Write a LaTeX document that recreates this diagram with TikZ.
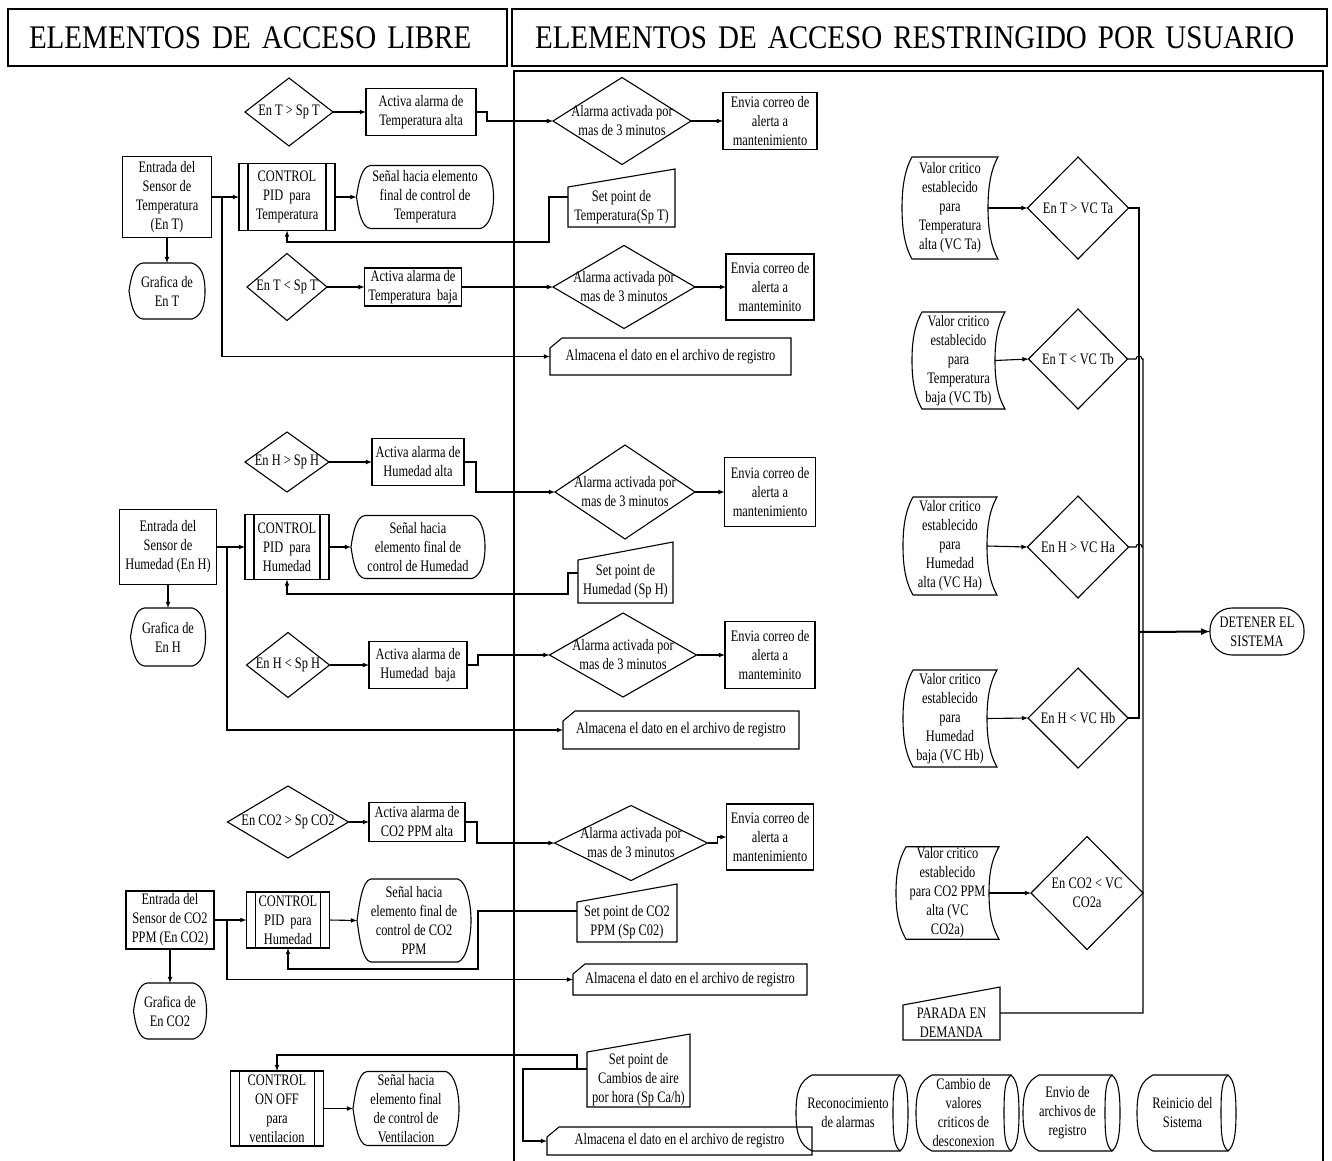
\documentclass[tikz,border=0pt]{standalone}
\usepackage{fontspec}
\setmainfont{Liberation Serif}[FakeStretch=0.775]
\newfontfamily\headfont{Liberation Serif}[FakeStretch=0.88, WordSpace=0.6]
\usepackage{tikz}
\usetikzlibrary{arrows}
\usetikzlibrary{calc}
\usetikzlibrary{shapes.geometric}
\tikzstyle{base}=[inner xsep=2pt, inner ysep=1pt, outer sep=0pt, align=center]
\tikzstyle{proc}=[base, draw, rectangle]
\tikzstyle{predef}=[base, draw, rectangle]
\tikzstyle{textbox}=[base, rectangle]
\tikzstyle{decision}=[base, draw, diamond, inner sep=0pt]
\tikzstyle{term}=[base, draw, rectangle, rounded corners=22pt]
\tikzstyle{hdr}=[draw, rectangle, inner ysep=0pt, align=left, font=\headfont\fontsize{33}{38}\selectfont]
\tikzset{sz/.style 2 args={minimum width=#1pt, minimum height=#2pt}}

\begin{document}
\begin{tikzpicture}[x=1pt, y=-1pt, line width=1.1pt, >=latex,
    font=\fontsize{16}{19}\selectfont,
    every label/.style={align=center, inner sep=0pt}]
    \useasboundingbox (0,0) rectangle (1332,1160);

    % cabeceras
    \node[hdr, text width=457pt, inner xsep=21pt, minimum height=57pt] (hdrL) at (257.5,37.5) {\mbox{ELEMENTOS DE ACCESO LIBRE}};
    \node[hdr, text width=769pt, inner xsep=23pt, minimum height=57pt] (hdrR) at (919.5,37.5) {\mbox{ELEMENTOS DE ACCESO RESTRINGIDO POR USUARIO}};
    \draw (514,1170) -- (514,71) -- (1323,71) -- (1323,1170);

    % temperatura
    \node[decision, sz={88}{68}, label={center:En T > Sp T}] (dTa) at (289,112) {};
    \node[proc, sz={110}{47}] (aTa) at (421,112) {Activa alarma de\\Temperatura alta};
    \node[decision, sz={138}{87}, label={center:Alarma activada por\\mas de 3 minutos}] (dTa3) at (622,121) {};
    \node[proc, sz={94}{57}] (eTa) at (770,121) {Envia correo de\\alerta a\\mantenimiento};
    \node[proc, sz={89}{81}] (sT) at (167,197) {Entrada del\\Sensor de\\Temperatura\\(En T)};
    \node[predef, sz={96}{67}] (pidT) at (287,197) {CONTROL\\PID~ para\\Temperatura};
    \node[textbox, sz={137}{63}] (sigT) at (425,197) {Señal hacia elemento\\final de control de\\Temperatura};
    \node[textbox, sz={107}{40}] (spT) at (621.5,207) {Set point de\\Temperatura(Sp T)};
    \node[textbox, sz={76}{56}] (gT) at (167,291) {Grafica de\\En T};
    \node[decision, sz={80}{67}, label={center:En T < Sp T}] (dTb) at (287,287) {};
    \node[proc, sz={97}{38}] (aTb) at (413,287) {Activa alarma de\\Temperatura~ baja};
    \node[decision, sz={142}{83}, label={center:Alarma activada por\\mas de 3 minutos}] (dTb3) at (624,287) {};
    \node[proc, sz={88}{66}] (eTb) at (770,287) {Envia correo de\\alerta a\\manteminito};
    \node[textbox, sz={241}{37}] (almT) at (670.5,356.5) {Almacena el dato en el archivo de registro};
    \coordinate (jT) at (222,197);

    \draw[->] (dTa.east) -- (aTa.west);
    \draw[->] (aTa.east) -- ++(11,0) |- (dTa3.west);
    \draw[->] (dTa3.east) -- (eTa.west);
    \draw (sT.east) -- (jT);
    \draw[->] (jT) -- (pidT.west);
    \draw[->] (jT) |- (almT.west);
    \draw[->] (pidT.east) -- (sigT.west);
    \draw[->] ([yshift=10pt]spT.west) -- ++(-19,0) -- ++(0,45) -| (pidT.south);
    \draw[->] (sT.south) -- (gT.north);
    \draw[->] (dTb.east) -- (aTb.west);
    \draw[->] (aTb.east) -- (dTb3.west);
    \draw[->] (dTb3.east) -- (eTb.west);

    % humedad
    \node[decision, sz={84}{60}, label={center:En H > Sp H}] (dHa) at (287,462) {};
    \node[proc, sz={92}{47}] (aHa) at (418,462) {Activa alarma de\\Humedad alta};
    \node[decision, sz={140}{94}, label={center:Alarma activada por\\mas de 3 minutos}] (dHa3) at (625,492) {};
    \node[proc, sz={91}{69}] (eHa) at (770,492) {Envia correo de\\alerta a\\mantenimiento};
    \node[proc, sz={97}{75}] (sH) at (168,547) {Entrada del\\Sensor de\\Humedad (En H)};
    \node[predef, sz={84}{65}] (pidH) at (287,547) {CONTROL\\PID~ para\\Humedad};
    \node[textbox, sz={134}{63}] (sigH) at (418,547) {Señal hacia\\elemento final de\\control de Humedad};
    \node[textbox, sz={95}{43}] (spH) at (625.5,581.5) {Set point de\\Humedad (Sp H)};
    \node[textbox, sz={75}{58}] (gH) at (168,637) {Grafica de\\En H};
    \node[decision, sz={83}{65}, label={center:En H < Sp H}] (dHb) at (288,665) {};
    \node[proc, sz={98}{47}] (aHb) at (418,665) {Activa alarma de\\Humedad~ baja};
    \node[decision, sz={147}{84}, label={center:Alarma activada por\\mas de 3 minutos}] (dHb3) at (623,655) {};
    \node[proc, sz={90}{67}] (eHb) at (770,655) {Envia correo de\\alerta a\\manteminito};
    \node[textbox, sz={236}{38}] (almH) at (681,730) {Almacena el dato en el archivo de registro};
    \coordinate (jH) at (227,547);

    \draw[->] (dHa.east) -- (aHa.west);
    \draw[->] (aHa.east) -- ++(12,0) |- (dHa3.west);
    \draw[->] (dHa3.east) -- (eHa.west);
    \draw (sH.east) -- (jH);
    \draw[->] (jH) -- (pidH.west);
    \draw[->] (jH) |- (almH.west);
    \draw[->] (pidH.east) -- (sigH.west);
    \draw[->] ([yshift=8.5pt]spH.west) -- ++(-10,0) -- ++(0,21) -| (pidH.south);
    \draw[->] (sH.south) -- (gH.north);
    \draw[->] (dHb.east) -- (aHb.west);
    \draw[->] (aHb.east) -- ++(11,0) |- (dHb3.west);
    \draw[->] (dHb3.east) -- (eHb.west);

    % CO2
    \node[decision, sz={121}{72}, label={center:En CO2 > Sp CO2}] (dCa) at (288,822) {};
    \node[proc, sz={96}{39}] (aCa) at (417,822) {Activa alarma de\\CO2 PPM alta};
    \node[decision, sz={153}{75}, label={center:Alarma activada por\\mas de 3 minutos}] (dCa3) at (631,843) {};
    \node[proc, sz={87}{66}] (eCa) at (770,837) {Envia correo de\\alerta a\\mantenimiento};
    \node[proc, sz={88}{58}] (sC) at (170,920) {Entrada del\\Sensor de CO2\\PPM (En CO2)};
    \node[predef, sz={83}{56}] (pidC) at (288,920) {CONTROL\\PID~ para\\Humedad};
    \node[textbox, sz={114}{83}] (sigC) at (414,920.5) {Señal hacia\\elemento final de\\control de CO2\\PPM};
    \node[textbox, sz={100}{40}] (spC) at (627,922) {Set point de CO2\\PPM (Sp C02)};
    \node[textbox, sz={234}{31}] (almC) at (690,979.5) {Almacena el dato en el archivo de registro};
    \node[textbox, sz={73}{56}] (gC) at (170,1011) {Grafica de\\En CO2};
    \coordinate (jC) at (227,920);

    \draw[->] (dCa.east) -- (aCa.west);
    \draw[->] (aCa.east) -- ++(12,0) |- (dCa3.west);
    \draw[->] (dCa3.east) -- ++(10,0) |- (eCa.west);
    \draw (sC.east) -- (jC);
    \draw[->] (jC) -- (pidC.west);
    \draw[->] (jC) |- (almC.west);
    \draw[->] (pidC.east) -- (sigC.west);
    \draw[->] ([yshift=11pt]spC.west) -- ++(-99,0) -- ++(0,58) -| (pidC.south);
    \draw[->] (sC.south) -- (gC.north);

    % ventilacion
    \node[predef, sz={93}{75}] (pidV) at (277,1108.5) {CONTROL\\ON OFF\\para\\ventilacion};
    \node[textbox, sz={106}{74}] (sigV) at (406,1108.5) {Señal hacia\\elemento final\\de control de\\Ventilacion};
    \node[textbox, sz={103}{55}] (spV) at (638.5,1079.5) {Set point de\\Cambios de aire\\por hora (Sp Ca/h)};
    \node[textbox, sz={265}{28}] (almV) at (679.5,1141) {Almacena el dato en el archivo de registro};

    \draw[->] (pidV.east) -- (sigV.west);
    \draw[->] ([yshift=10.5pt]spV.west) -- ++(-10,0) -- ++(0,-14) -| (pidV.north);
    \draw[->] ([yshift=10.5pt]spV.west) -- ++(-64,0) |- (almV.west);

    % valores criticos
    \node[textbox, sz={96}{102}] (vTa) at (950,208) {Valor critico\\establecido\\para\\Temperatura\\alta (VC Ta)};
    \node[decision, sz={101}{102}, label={center:En T > VC Ta}] (dVTa) at (1078,208) {};
    \node[textbox, sz={93}{97}] (vTb) at (958.5,360.5) {Valor critico\\establecido\\para\\Temperatura\\baja (VC Tb)};
    \node[decision, sz={99}{100}, label={center:En T < VC Tb}] (dVTb) at (1078,359) {};
    \node[textbox, sz={94}{98}] (vHa) at (950,546) {Valor critico\\establecido\\para\\Humedad\\alta (VC Ha)};
    \node[decision, sz={101}{102}, label={center:En H > VC Ha}] (dVHa) at (1078,547) {};
    \node[textbox, sz={94}{97}] (vHb) at (950,718.5) {Valor critico\\establecido\\para\\Humedad\\baja (VC Hb)};
    \node[decision, sz={100}{100}, label={center:En H < VC Hb}] (dVHb) at (1078,718) {};
    \node[textbox, sz={103}{90}] (vC) at (947.5,893) {Valor critico\\establecido\\para CO2 PPM\\alta (VC\\CO2a)};
    \node[decision, sz={112}{113}, label={center:En CO2 < VC\\CO2a}] (dVC) at (1087,893) {};
    \node[textbox, sz={97}{35}] (parada) at (951.5,1022.5) {PARADA EN\\DEMANDA};
    \node[term, sz={94}{47}] (stop) at (1257,631.5) {DETENER EL\\SISTEMA};
    \coordinate (busA) at (1139,632);
    \coordinate (busB) at (1143,1013);

    \foreach \v/\d in {vTa/dVTa, vTb/dVTb, vHa/dVHa, vHb/dVHb, vC/dVC}
        \draw[->] ([xshift=-10pt]\v.east) -- (\d.west);
    \draw (dVTa.east) -- (dVTa.east -| busA) -- (dVHb.east -| busA) -- (dVHb.east);
    \draw (dVTb.east) -- ($(dVTb.east -| busA)+(-3,0)$) arc[start angle=180, end angle=0, radius=3pt]
        -- (dVTb.east -| busB) -- (busB) -- ([yshift=9.5pt]parada.east);
    \draw (dVHa.east) -- ($(dVHa.east -| busA)+(-3,0)$) arc[start angle=180, end angle=0, radius=3pt]
        -- (dVHa.east -| busB);
    \draw[->, line width=2pt] (busA) -- (stop.west);

    % acciones
    \node[textbox, sz={104}{76}] (ackA) at (848,1113) {Reconocimiento\\de alarmas};
    \node[textbox, sz={95}{76}] (chg) at (963.5,1113) {Cambio de\\valores\\criticos de\\desconexion};
    \node[textbox, sz={89}{76}] (sendF) at (1067.5,1113) {Envio de\\archivos de\\registro};
    \node[textbox, sz={91}{76}] (rst) at (1182.5,1113) {Reinicio del\\Sistema};

    % contornos
    \foreach \n in {pidT,pidH,pidC,pidV} {
        \draw ($(\n.north west)+(9,0)$) -- ($(\n.south west)+(9,0)$);
        \draw ($(\n.north east)+(-9,0)$) -- ($(\n.south east)+(-9,0)$);
    }
    \foreach \n in {sigT,gT,sigH,gH,sigC,gC,sigV}
        \draw ($(\n.north west)+(14,0)$) -- ($(\n.north east)+(-13,0)$)
            .. controls +(9,3) and +(0,-16) .. (\n.east)
            .. controls +(0,16) and +(9,-3) .. ($(\n.south east)+(-13,0)$)
            -- ($(\n.south west)+(14,0)$)
            .. controls +(-9,-1) and +(2,14) .. (\n.west)
            .. controls +(2,-14) and +(-9,1) .. cycle;
    \foreach \n in {vTa,vTb,vHa,vHb,vC}
        \draw ($(\n.north west)+(10,0)$) -- (\n.north east)
            .. controls +(-8,14) and +(0,-18) .. ($(\n.east)+(-10,0)$)
            .. controls +(0,18) and +(-8,-14) .. (\n.south east)
            -- ($(\n.south west)+(10,0)$)
            .. controls +(-8,-14) and +(0,18) .. (\n.west)
            .. controls +(0,-18) and +(-8,14) .. cycle;
    \foreach \n in {spT,spH,spC,spV,parada}
        \draw (\n.south west) -- (\n.south east) -- ($(\n.north east)+(0,-18)$) -- (\n.north west) -- cycle;
    \foreach \n in {almT,almH,almC,almV}
        \draw (\n.south west) -- (\n.south east) -- (\n.north east) -- ($(\n.north west)+(12,0)$)
            -- ($(\n.north west)+(0,10)$) -- cycle;
    \foreach \n in {ackA,chg,sendF,rst} {
        \draw ($(\n.north west)+(16,0)$) -- (\n.north east)
            .. controls +(6,5) and +(0,-22) .. ($(\n.east)+(8,0)$)
            .. controls +(0,22) and +(6,-5) .. (\n.south east)
            -- ($(\n.south west)+(16,0)$)
            .. controls +(-12,-6) and +(0,22) .. (\n.west)
            .. controls +(0,-22) and +(-12,6) .. cycle;
        \draw (\n.north east) .. controls +(-6,5) and +(0,-22) .. ($(\n.east)+(-7,0)$)
            .. controls +(0,22) and +(-6,-5) .. (\n.south east);
    }
\end{tikzpicture}
\end{document}
